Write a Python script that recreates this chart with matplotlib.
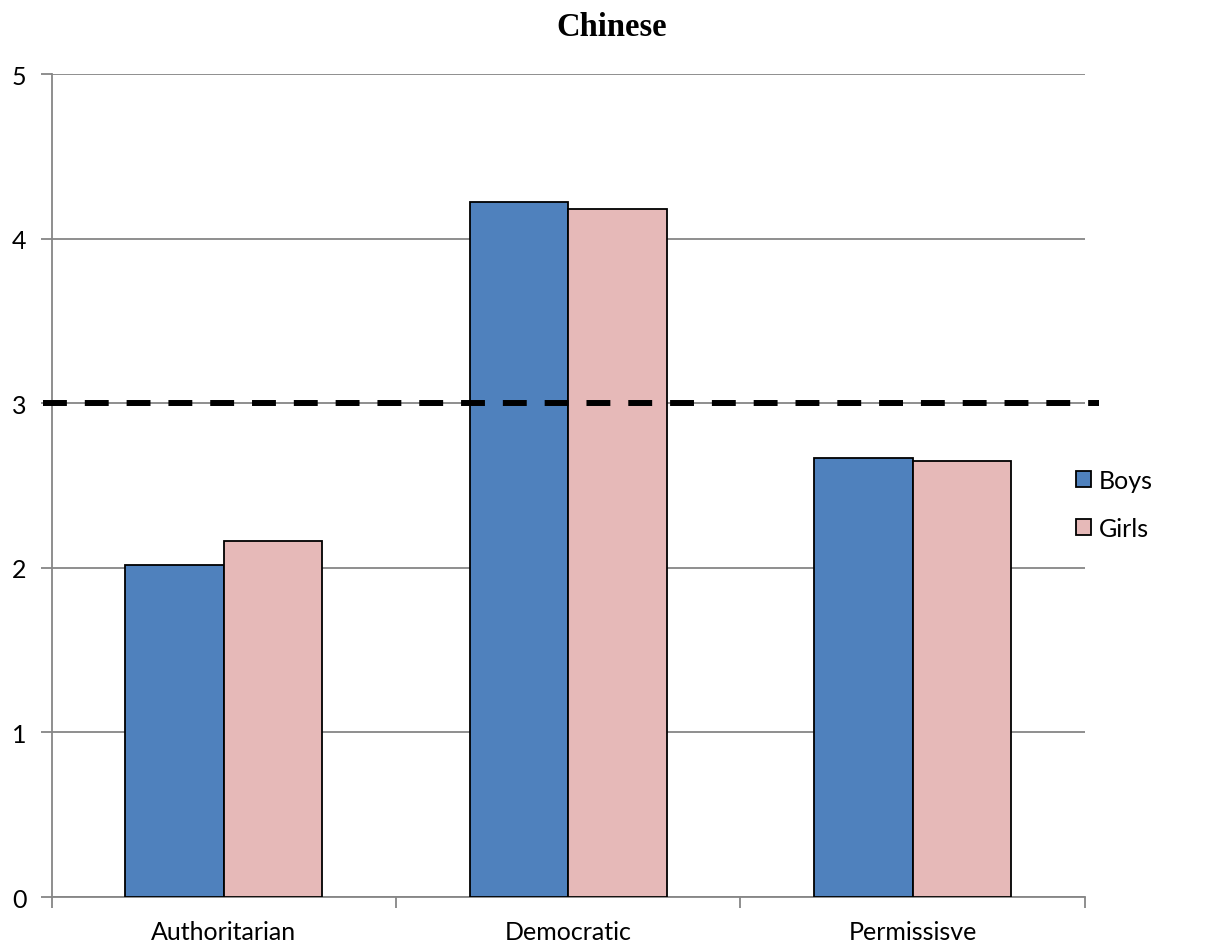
import numpy as np
import matplotlib
matplotlib.use("Agg")
import matplotlib.pyplot as plt
from matplotlib.lines import Line2D

categories = ["Authoritarian", "Democratic", "Permissisve"]
boys = [2.02, 4.22, 2.67]
girls = [2.16, 4.18, 2.65]
reference_level = 3

plt.rcParams['font.family'] = ['Lato', 'DejaVu Sans']

fig = plt.figure(figsize=(12.07, 9.45), dpi=100)
ax = fig.add_axes([0.0427, 0.0497, 0.8562, 0.8709])

x = np.arange(len(categories))
w = 1 / 3.5  # gap width 150%
ax.bar(x - w / 2, boys, w, color="#4F81BD", edgecolor="black", linewidth=1.3, label="Boys", zorder=3)
ax.bar(x + w / 2, girls, w, color="#E6B9B8", edgecolor="black", linewidth=1.3, label="Girls", zorder=3)

ax.set_xlim(-0.5, len(categories) - 0.5)
ax.set_ylim(0, 5)
ax.set_yticks(range(6))
ax.yaxis.grid(True, color="#868686", linewidth=1.3, zorder=0)
ax.set_axisbelow(True)

# category labels centred, ticks on boundaries
ax.set_xticks(x)
ax.set_xticklabels(categories, fontsize=18)
ax.tick_params(axis="x", length=0, pad=16.5)
ax.set_xticks(np.arange(len(categories) + 1) - 0.5, minor=True)
ax.tick_params(axis="x", which="minor", length=8, width=1.3, color="#868686")
ax.tick_params(axis="y", length=8, width=1.3, color="#868686", labelsize=18, pad=10)

for side in ["top", "right"]:
    ax.spines[side].set_visible(False)
for side in ["left", "bottom"]:
    ax.spines[side].set_color("#868686")
    ax.spines[side].set_linewidth(1.3)

# dashed reference line: from the y tick out past the plot area
yfig = ax.transData.transform((0, reference_level))[1]
yfig = fig.transFigure.inverted().transform((0, yfig))[1]
fig.add_artist(Line2D([43 / 1207, 1099 / 1207], [yfig, yfig], transform=fig.transFigure,
                      color="black", linewidth=4.3, linestyle=(0, (4.0, 3.0)),
                      solid_capstyle="butt", dash_capstyle="butt", zorder=5))

fig.text(612 / 1207, 1 - 36 / 945, "Chinese", fontfamily="Liberation Serif", fontweight="bold",
         fontsize=23.5, ha="center", va="baseline")

ax.legend(loc="center left", bbox_to_anchor=(0.97, 0.4775), frameon=False, fontsize=18,
          handlelength=0.6, handleheight=0.6, handletextpad=0.3, labelspacing=1.0)

fig.savefig("out.png", dpi=100)
